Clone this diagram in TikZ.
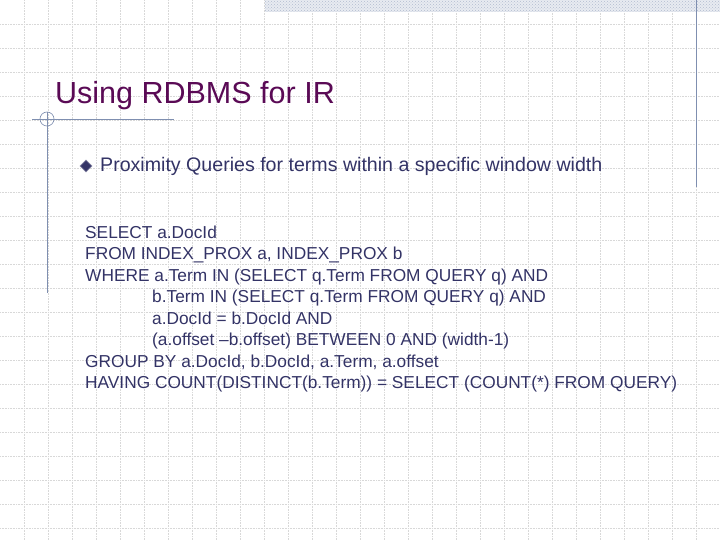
\documentclass[tikz,border=0pt]{standalone}
\usepackage{fontspec}
\setmainfont{Liberation Sans}
\usetikzlibrary{patterns,shapes.geometric}
\definecolor{titlec}{HTML}{5A0A55}
\definecolor{txt}{HTML}{333366}
\definecolor{rule}{HTML}{7F8FB0}
\definecolor{gridc}{HTML}{D8D8D8}
\begin{document}
\begin{tikzpicture}[x=1pt,y=-1pt,
  code/.style={anchor=base west,inner sep=0,text=txt,font=\fontsize{17.3}{20}\selectfont}]
\useasboundingbox (0,0) rectangle (720,540);
\fill[white] (0,0) rectangle (720,540);
\foreach \i in {1,...,29} \draw[gridc,densely dotted,line width=0.6] (\i*24,0) -- (\i*24,540);
\foreach \j in {1,...,22} \draw[gridc,densely dotted,line width=0.6] (0,\j*24) -- (720,\j*24);
\fill[rule!18] (265,0) rectangle (720,12);
\fill[pattern=crosshatch dots,pattern color=rule!60] (265,0) rectangle (720,12);
\draw[rule,line width=0.8] (696,0) -- (696,187);
\draw[rule,line width=0.8] (32,119) -- (174,119);
\draw[rule,line width=0.8] (47,112) -- (47,293);
\draw[rule,line width=0.6] (47,119) circle (7);
\node[anchor=base west,inner sep=0,text=titlec,font=\fontsize{30.5}{34}\selectfont] (title) at (55,104) {Using RDBMS for IR};
\node[draw=txt!60,fill=txt,diamond,minimum size=12,inner sep=0,line width=0.6] (bul) at (86,166) {};
\node[anchor=base west,inner sep=0,text=txt,font=\fontsize{19.6}{22}\selectfont] (b) at (100,172) {Proximity Queries for terms within a specific window width};
\node[code] (l1) at (85,238) {SELECT a.DocId};
\node[code] (l2) at (85,259.5) {FROM INDEX\_PROX a, INDEX\_PROX b};
\node[code] (l3) at (85,281) {WHERE a.Term IN (SELECT q.Term FROM QUERY q) AND};
\node[code] (l4) at (152,302.5) {b.Term IN (SELECT q.Term FROM QUERY q) AND};
\node[code] (l5) at (152,324) {a.DocId = b.DocId AND};
\node[code] (l6) at (152,345.5) {(a.offset –b.offset) BETWEEN 0 AND (width-1)};
\node[code] (l7) at (85,367) {GROUP BY a.DocId, b.DocId, a.Term, a.offset};
\node[code] (l8) at (85,388.5) {HAVING COUNT(DISTINCT(b.Term)) = SELECT (COUNT(*) FROM QUERY)};
\end{tikzpicture}
\end{document}
